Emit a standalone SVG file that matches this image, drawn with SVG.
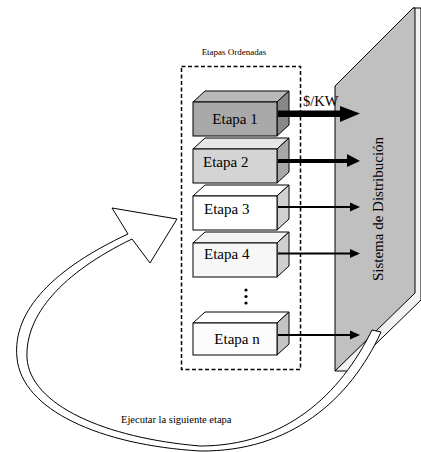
<svg xmlns="http://www.w3.org/2000/svg" width="421" height="452" viewBox="0 0 421 452">
<style>
.t{font-family:"Liberation Serif","Times New Roman",serif;fill:#000}
.lbl{font-size:15px}
.ln{stroke:#000;stroke-width:1;stroke-linejoin:miter}
</style>
<rect width="421" height="452" fill="#fff"/>
<!-- Distribution slab -->
<g id="sistema">
<polygon points="413,8 421,8 421,300 348,371 335,371 413,293" fill="#f2f2f2" class="ln"/>
<polygon points="335,86 413,8 415,8 415,293 335,371" fill="#c0c0c0" class="ln"/>
<text class="t" font-size="15" transform="translate(383,209) rotate(-90)" text-anchor="middle">Sistema de Distribución</text>
</g>
<!-- dashed group -->
<g id="grupo">
<rect x="181.5" y="66.5" width="119" height="303" fill="none" stroke="#000" stroke-width="1.5" stroke-dasharray="4,2.5"/>
<text class="t" x="234" y="55" font-size="9" text-anchor="middle">Etapas Ordenadas</text>
</g>
<g id="etapa1">
<polygon points="193,102 205,91 289,91 277,102" fill="#b8b8b8" class="ln"/>
<polygon points="277,102 289,91 289,125 277,136" fill="#888" class="ln"/>
<rect x="193" y="102" width="84" height="34" fill="#a9a9a9" class="ln"/>
<text class="t lbl" x="235" y="124" text-anchor="middle">Etapa 1</text>
</g>
<g id="etapa2">
<polygon points="193,149 205,138 289,138 277,149" fill="#e6e6e6" class="ln"/>
<polygon points="277,149 289,138 289,172 277,183" fill="#a8a8a8" class="ln"/>
<rect x="193" y="149" width="84" height="34" fill="#d4d4d4" class="ln"/>
<text class="t lbl" x="203" y="167">Etapa 2</text>
</g>
<g id="etapa3">
<polygon points="193,196 205,185 289,185 277,196" fill="#fff" class="ln"/>
<polygon points="277,196 289,185 289,219 277,230" fill="#d0d0d0" class="ln"/>
<rect x="193" y="196" width="84" height="34" fill="#fff" class="ln"/>
<text class="t lbl" x="204" y="214">Etapa 3</text>
</g>
<g id="etapa4">
<polygon points="193,243 205,232 289,232 277,243" fill="#f4f4f4" class="ln"/>
<polygon points="277,243 289,232 289,266 277,277" fill="#cfcfcf" class="ln"/>
<rect x="193" y="243" width="84" height="34" fill="#f7f7f7" class="ln"/>
<text class="t lbl" x="204" y="259">Etapa 4</text>
</g>
<g id="puntos">
<circle cx="246" cy="290" r="1.6" fill="#000"/>
<circle cx="246" cy="296.5" r="1.6" fill="#000"/>
<circle cx="246" cy="303" r="1.6" fill="#000"/>
</g>
<g id="etapan">
<polygon points="193,323 205,312 289,312 277,323" fill="#fff" class="ln"/>
<polygon points="277,323 289,312 289,344 277,355" fill="#c4c4c4" class="ln"/>
<rect x="193" y="323" width="84" height="32" fill="#fcfcfc" class="ln"/>
<text class="t lbl" x="237" y="344" text-anchor="middle">Etapa n</text>
</g>
<!-- connectors -->
<g id="conectores">
<rect x="278" y="110.5" width="64" height="6.5" fill="#000"/>
<polygon points="340,106 360,113.5 340,122" fill="#000"/>
<text class="t" x="303" y="106" font-size="14.5">$/KW</text>
<rect x="278" y="159" width="71" height="4" fill="#000"/>
<polygon points="347,154 360,161 347,167" fill="#000"/>
<line x1="278" y1="207" x2="352" y2="207" stroke="#000" stroke-width="2"/>
<polygon points="350,202.5 360,207 350,211.5" fill="#000"/>
<line x1="278" y1="253.5" x2="352" y2="253.5" stroke="#000" stroke-width="2"/>
<polygon points="350,249 360,253.5 350,258" fill="#000"/>
<line x1="278" y1="335" x2="352" y2="335" stroke="#000" stroke-width="2"/>
<polygon points="350,330.5 360,335 350,339.5" fill="#000"/>
<path d="M177,219 L112,208 L128,234 C55,268 12,310 17,358 C22,410 100,445 200,451 C290,452 350,400 381,332 L372,330 C340,395 285,446 200,446 C105,438 30,405 27,358 C25,315 62,273 132,239 L150,263 Z" fill="#fff" stroke="#000" stroke-width="1"/>
<text class="t" x="121" y="423" font-size="10.5">Ejecutar la siguiente etapa</text>
</g>
</svg>
